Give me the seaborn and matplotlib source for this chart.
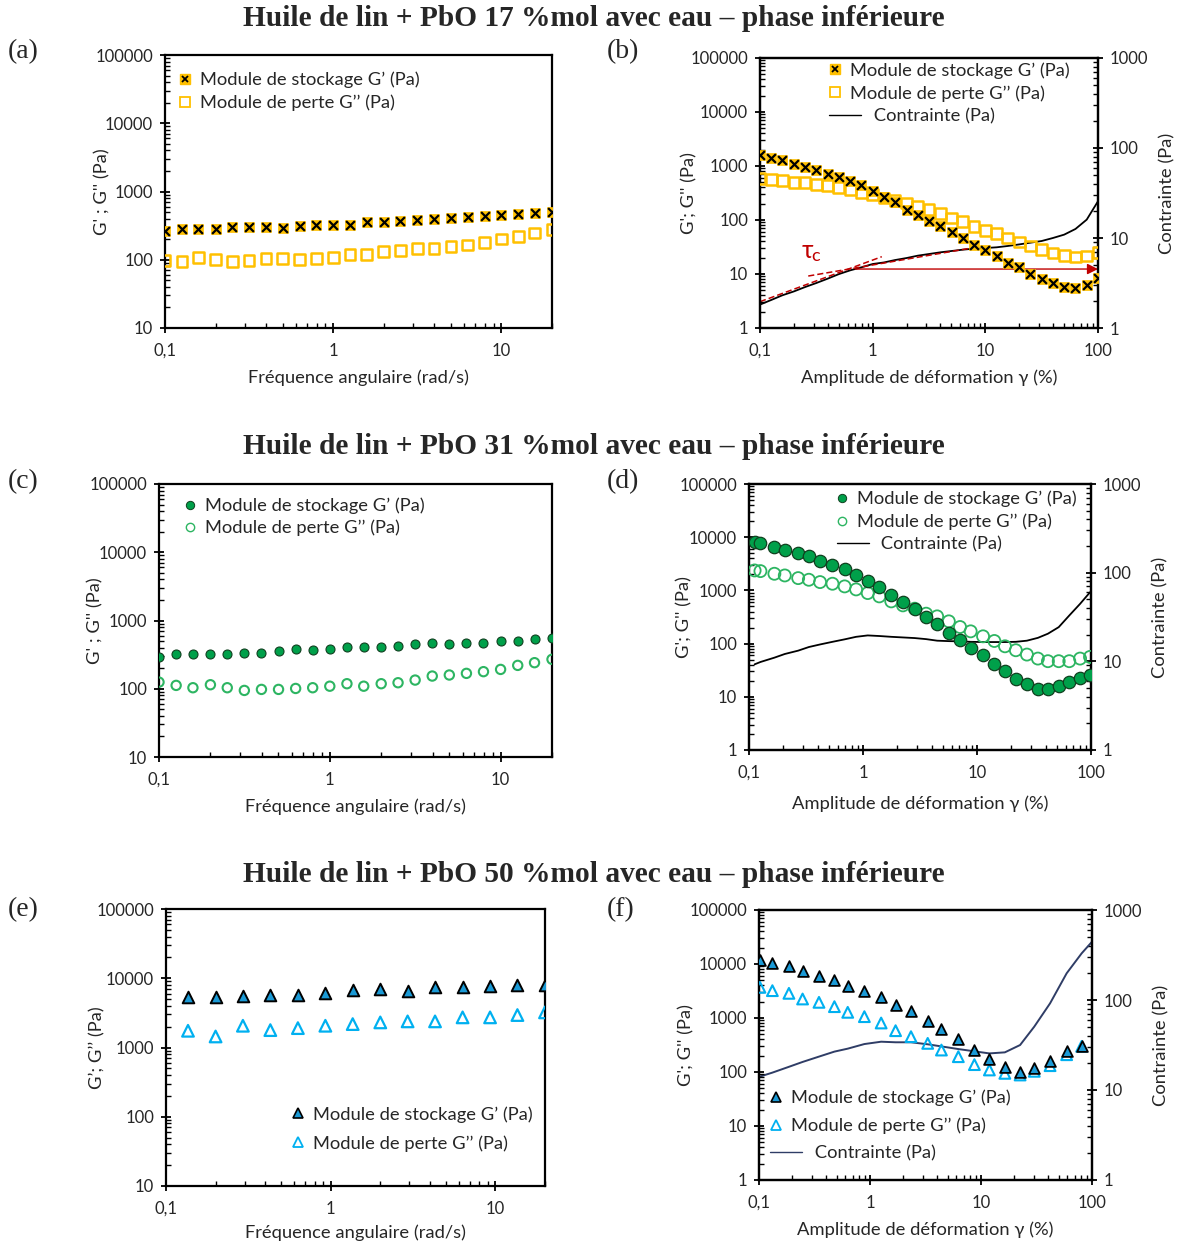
import numpy as np
import pandas as pd
import matplotlib
matplotlib.use("Agg")
import matplotlib.pyplot as plt
import seaborn as sns
from matplotlib.lines import Line2D
from matplotlib.ticker import LogLocator, FuncFormatter, NullFormatter
from matplotlib.legend_handler import HandlerTuple, HandlerLine2D

# ---------------- data ----------------
freq_a = [0.1, 0.126, 0.158, 0.2, 0.251, 0.316, 0.398, 0.501, 0.631, 0.794, 1, 1.26,
          1.58, 2, 2.51, 3.16, 3.98, 5.01, 6.31, 7.94, 10, 12.6, 15.8, 20]
gp_a = [265, 281, 281, 281, 297, 307, 297, 287, 315, 325, 325, 325, 352, 360, 368, 376,
        389, 412, 421, 436, 451, 471, 487, 493]
gpp_a = [96.6, 94.5, 109, 100, 94.5, 97.8, 103.5, 103.5, 101, 103.5, 109, 118, 118, 131,
         135, 147, 147, 155, 164, 179, 201, 219, 246, 275]

strain_b = [0.1, 0.126, 0.158, 0.2, 0.251, 0.316, 0.398, 0.501, 0.631, 0.794, 1, 1.26,
            1.58, 2, 2.51, 3.16, 3.98, 5.01, 6.31, 7.94, 10, 12.6, 15.8, 20, 25.1, 31.6,
            39.8, 50.1, 63.1, 79.4, 100]
gp_b = [1573, 1425, 1273, 1075, 960, 834, 704, 629, 531, 448, 338, 262, 218, 153, 124,
        97.8, 75.8, 59.7, 46.3, 34.9, 27.5, 21.6, 16.3, 13.6, 10.2, 8.06, 6.71, 5.83,
        5.43, 6.25, 8.29]
gpp_b = [594, 570, 546, 495, 495, 461, 430, 400, 363, 324, 294, 255, 228, 206, 179, 156,
         130, 109, 93.7, 75.8, 64, 55.6, 46.3, 39.1, 33, 28.3, 24.5, 22.3, 20.7, 21.6, 24.9]
stress_b = [1.82, 2.05, 2.31, 2.55, 2.85, 3.16, 3.53, 3.97, 4.37, 4.72, 5.14, 5.35, 5.69,
            5.99, 6.36, 6.64, 6.93, 7.17, 7.42, 7.61, 7.74, 7.88, 8.15, 8.49, 8.87, 9.26,
            10.0, 10.9, 12.6, 16.0, 25.6]

freq_c = [0.1, 0.126, 0.158, 0.2, 0.251, 0.316, 0.398, 0.501, 0.631, 0.794, 1, 1.26,
          1.58, 2, 2.51, 3.16, 3.98, 5.01, 6.31, 7.94, 10, 12.6, 15.8, 20]
gp_c = [296, 327, 320, 327, 320, 338, 338, 358, 379, 366, 379, 410, 415, 415, 424, 454,
        464, 454, 464, 475, 497, 508, 535, 550]
gpp_c = [125, 112, 103.5, 114.5, 103.5, 94.5, 97.8, 97.8, 101, 103.5, 109, 118.5, 109,
         118.5, 122.5, 134, 153.5, 159, 168, 178, 192, 220, 241, 270]

strain_d = [0.112, 0.126, 0.167, 0.206, 0.27, 0.335, 0.42, 0.54, 0.69, 0.87, 1.1, 1.39,
            1.77, 2.24, 2.84, 3.58, 4.47, 5.66, 7.1, 8.8, 11.3, 14.2, 17.6, 21.9, 27.4,
            34.2, 41.9, 52.1, 64.5, 80.2, 98]
gp_d = [8054, 7720, 6494, 5788, 5012, 4340, 3548, 3030, 2475, 1967, 1496, 1155, 829, 613,
        440, 316, 230, 158, 115, 83, 60.4, 42.2, 30.3, 21.8, 17.5, 14.3, 13.9, 16.1, 19.1,
        22.7, 25.5]
gpp_d = [2371, 2304, 2054, 1910, 1702, 1585, 1433, 1334, 1189, 1044, 891, 772, 622, 523,
         453, 365, 325, 262, 205, 170, 137, 112, 89, 75, 62.2, 52.3, 46.7, 46.7, 46.7,
         52.3, 56.2]
stress_d = [9.25, 9.83, 11.0, 12.1, 13.2, 14.5, 15.5, 16.6, 17.7, 18.9, 19.6, 19.3, 18.9,
            18.6, 18.3, 17.8, 17.1, 16.9, 16.8, 16.6, 16.5, 16.5, 16.5, 16.6, 17.1, 18.4,
            20.5, 24.3, 32.9, 44.5, 60.1]

freq_e = [0.136, 0.2, 0.293, 0.43, 0.632, 0.928, 1.36, 2.0, 2.93, 4.3, 6.32, 9.28, 13.6, 20]
gp_e = [5309, 5309, 5484, 5796, 5796, 6125, 6772, 7003, 6484, 7412, 7412, 7834, 8004, 8090]
gpp_e = [1744, 1443, 2061, 1783, 1905, 2061, 2178, 2303, 2383, 2383, 2723, 2723, 2942, 3215]

strain_f = [0.102, 0.132, 0.186, 0.247, 0.347, 0.478, 0.63, 0.89, 1.26, 1.70, 2.34, 3.31,
            4.40, 6.25, 8.72, 11.9, 16.4, 22.5, 30.2, 41.9, 59.1, 80.7]
gp_f = [11860, 10430, 9060, 7310, 6080, 5060, 3917, 3209, 2449, 1740, 1328, 867, 617, 408,
        259, 172, 122, 101, 119, 162, 248, 299]
gpp_f = [3698, 3209, 2863, 2249, 1950, 1622, 1274, 1059, 808, 582, 451, 339, 255, 192,
         137, 109, 94.4, 88, 103, 131, 209, 299]
stress_strain_f = [0.102, 0.132, 0.186, 0.247, 0.347, 0.478, 0.63, 0.89, 1.26, 1.70, 2.34,
                   3.31, 4.40, 6.25, 8.72, 11.9, 16.4, 22.5, 30.2, 41.9, 59.1, 80.7, 100]
stress_f = [14.1, 15.6, 18.1, 20.5, 23.5, 26.7, 28.8, 32.4, 34.4, 33.9, 33.9, 32.2, 30.5,
            28.5, 26.9, 25.5, 26.2, 31.6, 50.6, 91.8, 198, 330, 444]

titles = ["Huile de lin + PbO 17 %mol avec eau \u2013 phase inf\u00e9rieure",
          "Huile de lin + PbO 31 %mol avec eau \u2013 phase inf\u00e9rieure",
          "Huile de lin + PbO 50 %mol avec eau \u2013 phase inf\u00e9rieure"]
lab_gp = "Module de stockage G\u2019 (Pa)"
lab_gpp = "Module de perte G\u2019\u2019 (Pa)"
lab_stress = "Contrainte (Pa)"

# ---------------- style ----------------
sns.set_style("white")
plt.rcParams['font.family'] = ['Lato', 'DejaVu Sans']

GOLD = "#FFC000"
GREEN_F = "#00A04A"
GREEN_O = "#2DB562"
BLUE_F = "#1B9AD6"
BLUE_O = "#00B0F0"
NAVY = "#2F3D66"
RED = "#C00000"

FS_LEG = 13.2
FS_LAB = 13.2
FS_TICK = 12

W, H = 1180, 1243
fig = plt.figure(figsize=(W / 100, H / 100), dpi=100)


def rect(l, t, r, b):
    return [l / W, 1 - b / H, (r - l) / W, (b - t) / H]


fmt = FuncFormatter(lambda v, p: f"{v:g}".replace('.', ','))


def style_log_axis(axis):
    axis.set_major_locator(LogLocator(base=10, numticks=12))
    axis.set_minor_locator(LogLocator(base=10, subs=np.arange(2, 10), numticks=120))
    axis.set_major_formatter(fmt)
    axis.set_minor_formatter(NullFormatter())


def setup(ax, xlim, ylim, xlabel, ylabel, ylab_x, xpad=8):
    ax.set_xscale('log')
    ax.set_yscale('log')
    ax.set_xlim(*xlim)
    ax.set_ylim(*ylim)
    style_log_axis(ax.xaxis)
    style_log_axis(ax.yaxis)
    for s in ax.spines.values():
        s.set_color('black')
        s.set_linewidth(1.6)
    ax.tick_params(which='major', direction='inout', length=7, width=1.3,
                   labelsize=FS_TICK, color='black', pad=5, left=True, bottom=True,
                   top=False, right=False)
    ax.tick_params(which='minor', direction='in', length=3.5, width=1,
                   color='black', left=True, bottom=True, top=False, right=False)
    ax.tick_params(axis='x', which='major', pad=7)
    ax.set_xlabel(xlabel, fontsize=FS_LAB, labelpad=xpad)
    ax.set_ylabel(ylabel, fontsize=FS_LAB)
    ax.yaxis.set_label_coords(ylab_x, 0.5)


def setup_right(ax2, ylim):
    ax2.set_yscale('log')
    ax2.set_ylim(*ylim)
    style_log_axis(ax2.yaxis)
    ax2.tick_params(axis='y', which='major', direction='inout', length=7, width=1.3,
                    labelsize=FS_TICK, color='black', pad=5, right=True)
    ax2.tick_params(axis='y', which='minor', direction='in', length=3.5, width=1,
                    color='black', right=True)
    ax2.set_ylabel(lab_stress, fontsize=FS_LAB, labelpad=8)
    for s in ax2.spines.values():
        s.set_color('black')
        s.set_linewidth(1.6)


class LongLineHandler(HandlerLine2D):
    """Legend line that is drawn longer than the marker handles."""
    def create_artists(self, legend, orig_handle, xdescent, ydescent, width, height,
                       fontsize, trans):
        y = height / 2.0 - ydescent
        line = Line2D([-xdescent + 2.5, -xdescent + 25.5], [y, y],
                      color=orig_handle.get_color(), lw=orig_handle.get_linewidth())
        line.set_transform(trans)
        return [line]


def sq_x_handles():
    h1 = (Line2D([], [], ls='', marker='s', ms=6.5, mfc=GOLD, mec=GOLD),
          Line2D([], [], ls='', marker='x', ms=5, mec='black', mew=1.3))
    h2 = Line2D([], [], ls='', marker='s', ms=7, mfc='none', mec=GOLD, mew=1.3)
    return h1, h2


def gold_series(ax, x, gp, gpp):
    sns.scatterplot(x=x, y=gpp, ax=ax, marker='s', s=60, facecolor='none',
                    edgecolor=GOLD, linewidth=1.8, legend=False, zorder=3)
    sns.scatterplot(x=x, y=gp, ax=ax, marker='s', s=60, color=GOLD,
                    edgecolor=GOLD, linewidth=0.5, legend=False, zorder=4)
    sns.scatterplot(x=x, y=gp, ax=ax, marker='x', s=40, color='black',
                    linewidth=1.6, legend=False, zorder=5)


xl_freq = "Fr\u00e9quence angulaire (rad/s)"
xl_strain = "Amplitude de d\u00e9formation \u03b3 (%)"
stress_label = "     " + lab_stress


def make_legend(ax, handles, labels, anchor, spacing):
    hm = {tuple: HandlerTuple(ndivide=1, pad=0)}
    for h in handles:
        if isinstance(h, Line2D) and h.get_linestyle() not in ('', 'None', 'none'):
            hm[h] = LongLineHandler()
    ax.legend(handles, labels, loc='upper left', bbox_to_anchor=anchor, frameon=False,
              fontsize=FS_LEG, handlelength=1.0, handletextpad=0.3, borderpad=0,
              borderaxespad=0, labelspacing=spacing, handler_map=hm)


# ---------------- (a) ----------------
axa = fig.add_axes(rect(165, 55, 552, 328))
gold_series(axa, freq_a, gp_a, gpp_a)
setup(axa, (0.1, 20), (10, 100000), xl_freq, "G' ; G'' (Pa)", -0.14)
h1, h2 = sq_x_handles()
make_legend(axa, [h1, h2], [lab_gp, lab_gpp], (0.028, 0.94), 0.35)

# ---------------- (b) ----------------
axb = fig.add_axes(rect(760, 58, 1098, 328))
axb2 = axb.twinx()
sns.lineplot(x=strain_b, y=stress_b, ax=axb2, color='black', lw=1.3,
             sort=False, estimator=None, legend=False)
gold_series(axb, strain_b, gp_b, gpp_b)
setup(axb, (0.1, 100), (1, 100000), xl_strain, "G'; G'' (Pa)", -0.186)
setup_right(axb2, (1, 1000))
axb.set_zorder(axb2.get_zorder() + 1)
axb.patch.set_visible(False)
# tau_c construction
axb2.plot([0.1, 1.205], [1.96, 6.2], ls='--', color=RED, lw=1.1, dashes=(4, 2))
axb2.plot([0.268, 7.83], [3.78, 7.8], ls='--', color=RED, lw=1.1, dashes=(4, 2))
axb2.annotate('', xy=(100, 4.52), xytext=(0.70, 4.52),
              arrowprops=dict(arrowstyle='-|>', color=RED, lw=1.0,
                              mutation_scale=16, shrinkA=0, shrinkB=0))
axb2.text(0.262, 7.2, "\u03c4", color=RED, fontsize=18, ha='center', va='center')
axb2.text(0.31, 6.3, "c", color=RED, fontsize=13, ha='center', va='center')
h1, h2 = sq_x_handles()
h3 = Line2D([], [], color='black', lw=1.0)
make_legend(axb, [h1, h2, h3], [lab_gp, lab_gpp, stress_label], (0.195, 0.985), 0.35)

# ---------------- (c) ----------------
axc = fig.add_axes(rect(159, 484, 552, 757))
sns.scatterplot(x=freq_c, y=gpp_c, ax=axc, marker='o', s=45, facecolor='none',
                edgecolor=GREEN_O, linewidth=1.5, legend=False, zorder=3)
sns.scatterplot(x=freq_c, y=gp_c, ax=axc, marker='o', s=42, color=GREEN_F,
                edgecolor='#10401F', linewidth=0.8, legend=False, zorder=4)
setup(axc, (0.1, 20), (10, 100000), xl_freq, "G' ; G'' (Pa)", -0.142)
hc1 = Line2D([], [], ls='', marker='o', ms=6, mfc=GREEN_F, mec='#10401F', mew=0.7)
hc2 = Line2D([], [], ls='', marker='o', ms=6, mfc='none', mec=GREEN_O, mew=1.0)
make_legend(axc, [hc1, hc2], [lab_gp, lab_gpp], (0.056, 0.95), 0.3)

# ---------------- (d) ----------------
axd = fig.add_axes(rect(749, 484, 1091, 750))
axd2 = axd.twinx()
sns.lineplot(x=strain_d, y=stress_d, ax=axd2, color='black', lw=1.3,
             sort=False, estimator=None, legend=False)
sns.scatterplot(x=strain_d, y=gpp_d, ax=axd, marker='o', s=75, facecolor='none',
                edgecolor=GREEN_O, linewidth=1.3, legend=False, zorder=3)
sns.scatterplot(x=strain_d, y=gp_d, ax=axd, marker='o', s=80, color=GREEN_F,
                edgecolor='#10401F', linewidth=0.9, legend=False, zorder=4)
setup(axd, (0.1, 100), (1, 100000), xl_strain, "G'; G'' (Pa)", -0.164, xpad=11)
setup_right(axd2, (1, 1000))
axd.set_zorder(axd2.get_zorder() + 1)
axd.patch.set_visible(False)
hd3 = Line2D([], [], color='black', lw=1.0)
make_legend(axd, [hc1, hc2, hd3], [lab_gp, lab_gpp, stress_label], (0.246, 0.975), 0.35)

# ---------------- (e) ----------------
axe = fig.add_axes(rect(166, 909, 545, 1186))
sns.scatterplot(x=freq_e, y=gpp_e, ax=axe, marker='^', s=70, facecolor='none',
                edgecolor=BLUE_O, linewidth=1.6, legend=False, zorder=3)
sns.scatterplot(x=freq_e, y=gp_e, ax=axe, marker='^', s=70, color=BLUE_F,
                edgecolor='black', linewidth=1.4, legend=False, zorder=4)
setup(axe, (0.1, 20), (10, 100000), xl_freq, "G\u2019; G\u2019\u2019 (Pa)", -0.161, xpad=6)
he1 = Line2D([], [], ls='', marker='^', ms=7.5, mfc=BLUE_F, mec='black', mew=1.2)
he2 = Line2D([], [], ls='', marker='^', ms=7.5, mfc='none', mec=BLUE_O, mew=1.3)
make_legend(axe, [he1, he2], [lab_gp, lab_gpp], (0.325, 0.289), 0.7)

# ---------------- (f) ----------------
axf = fig.add_axes(rect(759, 910, 1092, 1180))
axf2 = axf.twinx()
sns.lineplot(x=stress_strain_f, y=stress_f, ax=axf2, color=NAVY, lw=1.4,
             sort=False, estimator=None, legend=False)
sns.scatterplot(x=strain_f, y=gpp_f, ax=axf, marker='^', s=60, facecolor='none',
                edgecolor=BLUE_O, linewidth=1.5, legend=False, zorder=3)
sns.scatterplot(x=strain_f, y=gp_f, ax=axf, marker='^', s=60, color=BLUE_F,
                edgecolor='black', linewidth=1.3, legend=False, zorder=4)
setup(axf, (0.1, 100), (1, 100000), xl_strain, "G'; G'' (Pa)", -0.195)
setup_right(axf2, (1, 1000))
axf.set_zorder(axf2.get_zorder() + 1)
axf.patch.set_visible(False)
hf3 = Line2D([], [], color=NAVY, lw=1.0)
make_legend(axf, [he1, he2, hf3], [lab_gp, lab_gpp, stress_label], (0.024, 0.334), 0.6)

# ---------------- titles & panel labels ----------------
for t, y in zip(titles, [18, 447, 874]):
    fig.text(594 / W, 1 - y / H, t, ha='center', va='center', fontsize=21.2,
             fontweight='bold', family='Liberation Serif')
for lab, x, y in [("(a)", 8, 52), ("(b)", 607, 52), ("(c)", 8, 482), ("(d)", 607, 482),
                  ("(e)", 8, 910), ("(f)", 607, 910)]:
    fig.text(x / W, 1 - y / H, lab, ha='left', va='center', fontsize=20,
             family='Liberation Serif')

fig.savefig("out.png", dpi=100)
